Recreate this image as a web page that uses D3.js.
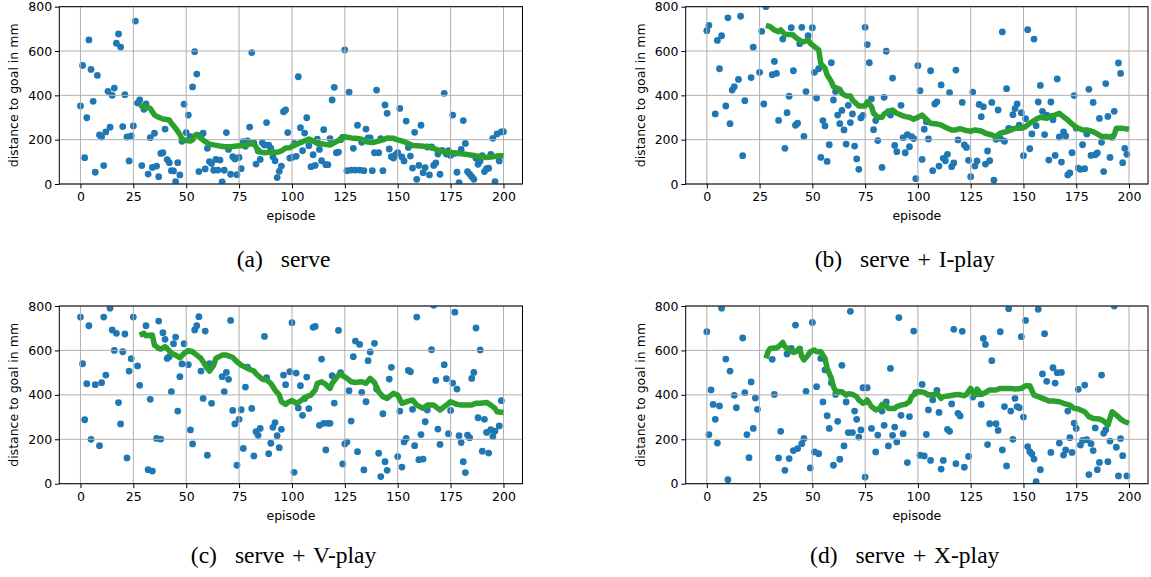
<!DOCTYPE html>
<html>
<head>
<meta charset="utf-8">
<script src="https://cdn.jsdelivr.net/npm/d3@7"></script>
<style>
  html, body { margin: 0; padding: 0; background: #fff; }
  svg { display: block; }
</style>
</head>
<body>
<svg id="chart" width="1151" height="577"></svg>
<script>
// Episode index shared by all four experiments
const episodes = d3.range(0, 201);
const xTicks = [0, 25, 50, 75, 100, 125, 150, 175, 200];
const yTicks = [0, 200, 400, 600, 800];

// Distance to goal (mm) per episode; null = outside the plotted range
const serveDist = [
  352,535,119,299,650,517,373,53,490,221,
  212,83,235,418,256,400,433,635,677,618,
  259,403,212,104,217,262,735,365,379,83,
  337,361,45,209,75,229,81,33,138,141,
  248,110,96,60,59,11,96,41,193,360,
  232,311,214,438,597,496,56,220,229,68,
  161,101,92,62,111,63,108,9,62,232,
  156,44,123,113,42,120,69,191,170,195,
  257,593,186,90,150,111,186,176,277,175,
  162,123,105,29,57,81,326,334,232,117,
  120,183,125,484,254,150,230,299,173,78,
  132,84,202,156,105,245,87,87,205,379,
  436,141,144,200,210,605,60,414,63,161,
  63,265,63,188,60,248,208,208,60,141,
  424,141,205,60,357,319,158,123,117,132,
  141,341,122,104,284,165,126,72,233,21,
  84,265,51,74,167,41,167,84,95,135,
  44,152,409,135,150,129,311,138,53,6,
  156,286,183,56,45,33,21,116,89,104,
  128,56,69,71,134,206,11,226,104,235,
  236
];
const iPlayDist = [
  692,716,null,null,316,648,520,669,null,352,
  750,272,424,439,null,472,757,128,376,null,
  null,480,617,null,null,504,689,361,800,null,
  null,493,553,499,287,null,654,161,322,396,
  705,511,265,274,633,707,215,417,669,null,
  705,504,388,520,120,286,262,102,177,547,
  379,417,311,272,332,244,180,355,277,316,
  171,113,66,298,310,707,629,547,384,245,
  286,196,null,75,391,599,326,311,478,174,
  146,null,355,209,141,223,168,214,205,24,
  534,421,111,247,281,203,511,60,361,371,
  81,447,116,105,134,412,78,95,514,199,
  null,368,176,165,107,33,415,81,104,359,
  304,349,90,149,105,368,17,202,334,206,
  686,193,430,251,248,313,340,361,266,322,
  128,295,696,159,226,654,263,370,445,328,
  223,311,108,370,290,129,474,212,99,235,
  217,41,50,141,399,251,72,66,177,69,
  226,427,129,368,132,140,296,188,56,453,
  305,120,211,328,null,546,499,96,161,134,
  null
];
const vPlayDist = [
  750,540,288,450,711,200,null,446,null,171,
  455,750,489,null,790,692,600,677,365,269,
  594,674,116,507,563,750,null,530,443,null,
  null,711,63,380,57,null,204,732,201,680,
  650,564,572,414,630,660,327,482,539,630,
  null,536,242,179,692,711,752,507,384,687,
  128,540,362,null,null,null,null,482,414,501,
  470,735,330,269,83,290,333,159,435,525,
  null,339,125,234,218,249,null,663,477,135,
  182,254,275,216,162,245,489,446,null,504,
  725,51,498,341,441,308,384,480,338,null,
  704,708,null,263,561,272,152,272,272,486,
  363,null,690,500,89,179,188,419,282,572,
  642,144,627,411,62,369,554,593,null,632,
  426,137,32,315,99,60,471,524,null,null,
  122,327,75,188,204,510,504,335,171,750,
  108,221,111,279,332,null,603,803,465,246,
  177,null,536,473,225,330,453,772,426,216,
  185,99,50,219,207,474,501,701,297,602,
  146,290,231,138,243,213,237,null,260,374,
  null
];
const xPlayDist = [
  684,221,422,357,290,183,350,790,null,561,
  18,507,null,398,342,null,null,656,410,221,
  117,458,249,386,335,null,null,null,null,null,
  null,560,402,null,116,236,null,60,584,113,
  609,149,714,158,606,180,204,416,null,71,
  726,143,437,135,564,368,512,306,249,455,
  83,402,281,110,533,170,368,230,776,230,
  327,290,210,242,432,30,432,null,249,null,
  143,219,null,327,263,368,170,519,218,255,
  188,748,308,225,null,95,302,null,687,410,
  null,128,447,125,222,332,105,377,null,420,
  321,66,105,null,245,236,359,695,90,317,
  305,686,74,null,123,null,390,null,null,405,
  357,654,627,176,270,554,null,270,240,684,
  152,347,80,788,327,200,384,347,342,662,
  300,735,167,144,134,111,9,785,63,494,
  675,461,null,141,522,453,500,183,501,129,
  152,327,207,141,273,249,425,174,195,444,
  198,41,180,149,251,63,96,489,227,243,
  99,192,null,800,164,35,203,126,null,35,
  null
];

// Running-average curves, [episode, distance in mm]
const serveTrend = [
  [28,355],[30,349],[33,341],[35,311],[37,301],[39,293],[42,289],[43,274],[45,251],[47,224],
  [48,202],[50,196],[52,194],[53,199],[54,218],[55,224],[57,206],[59,191],[61,180],[65,173],
  [68,168],[71,168],[74,171],[77,174],[80,180],[82,182],[83,168],[84,146],[87,141],[90,144],
  [93,143],[95,149],[97,162],[99,164],[102,178],[105,191],[108,203],[110,194],[112,183],[115,180],
  [118,176],[121,191],[124,206],[125,213],[128,208],[131,205],[133,202],[135,191],[138,187],[140,191],
  [143,199],[145,208],[148,206],[150,199],[153,191],[155,183],[157,174],[161,171],[164,168],[167,161],
  [170,150],[173,143],[176,141],[179,138],[182,134],[186,129],[189,123],[192,120],[195,123],[198,128],
  [200,127]
];
const iPlayTrend = [
  [28,716],[30,710],[32,695],[34,687],[35,695],[37,675],[39,675],[41,672],[42,662],[45,642],
  [46,642],[48,650],[49,635],[51,620],[53,605],[54,544],[56,522],[57,492],[59,462],[60,439],
  [63,427],[64,409],[66,397],[68,397],[69,379],[71,361],[72,352],[75,352],[76,371],[78,349],
  [79,319],[81,301],[83,301],[84,316],[86,326],[88,334],[90,319],[92,311],[94,304],[96,301],
  [98,292],[100,301],[102,311],[104,292],[106,274],[109,271],[111,266],[113,256],[116,244],[118,244],
  [120,250],[123,241],[125,238],[127,244],[130,239],[132,229],[135,221],[137,214],[139,229],[142,236],
  [144,244],[146,251],[149,251],[151,259],[153,274],[156,292],[158,301],[161,296],[163,307],[165,311],
  [167,319],[168,311],[171,289],[173,271],[175,256],[178,244],[180,244],[183,236],[185,226],[187,214],
  [190,214],[191,211],[193,221],[194,251],[197,251],[200,247]
];
const vPlayTrend = [
  [28,669],[30,677],[31,666],[34,669],[35,624],[37,609],[38,606],[40,617],[41,609],[43,587],
  [45,579],[47,567],[49,587],[51,599],[53,594],[55,579],[57,564],[58,549],[60,519],[61,507],
  [63,534],[64,564],[67,579],[69,579],[72,569],[74,549],[76,534],[79,519],[82,507],[83,495],
  [86,470],[88,467],[90,452],[92,422],[94,399],[95,369],[97,357],[98,366],[100,375],[102,362],
  [104,372],[107,392],[109,399],[111,422],[112,452],[114,459],[116,447],[118,429],[119,452],[122,489],
  [123,492],[126,474],[128,459],[130,456],[133,459],[135,452],[137,474],[139,456],[141,414],[143,392],
  [145,384],[148,407],[150,399],[152,362],[155,372],[157,377],[159,354],[162,339],[164,354],[167,354],
  [169,339],[170,332],[173,354],[175,369],[178,357],[180,354],[182,354],[185,354],[187,362],[189,362],
  [192,366],[194,354],[196,339],[197,324],[200,321]
];
const xPlayTrend = [
  [28,564],[29,594],[30,609],[33,612],[34,617],[36,636],[37,617],[39,602],[41,591],[42,594],
  [44,609],[45,572],[46,557],[48,579],[49,594],[51,602],[52,594],[54,594],[56,564],[57,519],
  [59,474],[60,437],[61,417],[63,414],[64,414],[66,399],[67,405],[69,402],[71,392],[72,377],
  [74,362],[75,366],[76,377],[78,347],[80,332],[82,339],[83,357],[85,351],[86,339],[89,339],
  [90,347],[92,354],[94,357],[96,369],[97,392],[100,414],[101,414],[103,411],[105,399],[108,402],
  [109,407],[111,384],[112,392],[115,396],[117,399],[119,402],[122,396],[123,402],[125,429],[127,399],
  [128,426],[130,402],[132,411],[134,422],[137,422],[139,429],[142,429],[144,429],[146,426],[149,429],
  [151,441],[153,441],[155,399],[157,392],[160,381],[162,372],[164,372],[167,369],[169,362],[172,354],
  [174,339],[176,336],[179,324],[181,302],[183,294],[186,291],[188,282],[190,264],[191,294],[192,324],
  [194,309],[196,291],[198,279],[200,272]
];

const captionTags = ["(a)", "(b)", "(c)", "(d)"];
const captionTexts = ["serve", "serve + I-play", "serve + V-play", "serve + X-play"];

const svg = d3.select("#chart");
svg.append("rect").attr("width", 1151).attr("height", 577).attr("fill", "#fff");

const panels = [
  { id: "a", values: serveDist, trend: serveTrend, left: 59.3, right: 522.5, top: 6.7, bottom: 184, capX: 283.5, capY: 267.3 },
  { id: "b", values: iPlayDist, trend: iPlayTrend, left: 685.7, right: 1148, top: 6.7, bottom: 184, capX: 904.7, capY: 267.3 },
  { id: "c", values: vPlayDist, trend: vPlayTrend, left: 59.3, right: 522.5, top: 306, bottom: 483.7, capX: 283.5, capY: 563.3 },
  { id: "d", values: xPlayDist, trend: xPlayTrend, left: 685.7, right: 1148, top: 306, bottom: 483.7, capX: 904.7, capY: 563.3 }
];

const tickFont = "'DejaVu Sans', sans-serif";

panels.forEach((p, k) => {
  const x = d3.scaleLinear().domain([-10, 209]).range([p.left, p.right]);
  const y = d3.scaleLinear().domain([0, 800]).range([p.bottom, p.top]);
  const g = svg.append("g").attr("class", "panel-" + p.id);

  const clipId = "clip-" + p.id;
  svg.append("defs").append("clipPath").attr("id", clipId)
    .append("rect")
    .attr("x", p.left).attr("y", p.top)
    .attr("width", p.right - p.left).attr("height", p.bottom - p.top);

  const pts = p.values
    .map((v, i) => ({ ep: episodes[i], v }))
    .filter(d => d.v !== null);

  // scatter of individual episodes
  g.append("g").attr("clip-path", `url(#${clipId})`)
    .selectAll("circle").data(pts).join("circle")
    .attr("cx", d => x(d.ep))
    .attr("cy", d => y(d.v))
    .attr("r", 3.4)
    .attr("fill", "#1f77b4");

  // grid
  const grid = g.append("g").attr("stroke", "#b0b0b0").attr("stroke-width", 1);
  grid.selectAll("line.gx").data(xTicks).join("line").attr("class", "gx")
    .attr("x1", d => x(d)).attr("x2", d => x(d))
    .attr("y1", p.top).attr("y2", p.bottom);
  grid.selectAll("line.gy").data(yTicks).join("line").attr("class", "gy")
    .attr("x1", p.left).attr("x2", p.right)
    .attr("y1", d => y(d)).attr("y2", d => y(d));

  // running average
  g.append("path").datum(p.trend)
    .attr("clip-path", `url(#${clipId})`)
    .attr("d", d3.line().x(d => x(d[0])).y(d => y(d[1])))
    .attr("fill", "none")
    .attr("stroke", "#2ca02c")
    .attr("stroke-width", 5.5)
    .attr("stroke-linejoin", "round")
    .attr("stroke-linecap", "butt");

  // axes
  const xAxis = g.append("g")
    .attr("transform", `translate(0,${p.bottom})`)
    .call(d3.axisBottom(x).tickValues(xTicks).tickSize(4.4).tickPadding(4.2).tickSizeOuter(0));
  const yAxis = g.append("g")
    .attr("transform", `translate(${p.left},0)`)
    .call(d3.axisLeft(y).tickValues(yTicks).tickSize(4.4).tickPadding(2.8).tickSizeOuter(0));
  [xAxis, yAxis].forEach(a => {
    a.select(".domain").remove();
    a.selectAll(".tick line").attr("stroke", "#000").attr("stroke-width", 1);
    a.selectAll(".tick text")
      .attr("fill", "#000")
      .style("font-family", tickFont)
      .style("font-size", "12.5px");
  });

  // frame
  g.append("rect")
    .attr("x", p.left).attr("y", p.top)
    .attr("width", p.right - p.left).attr("height", p.bottom - p.top)
    .attr("fill", "none").attr("stroke", "#000").attr("stroke-width", 1);

  // axis titles
  g.append("text")
    .attr("x", (p.left + p.right) / 2)
    .attr("y", p.bottom + 36.3)
    .attr("text-anchor", "middle")
    .style("font-family", tickFont).style("font-size", "12.5px")
    .attr("fill", "#000")
    .text("episode");
  g.append("text")
    .attr("transform", `translate(${p.left - 45.5},${(p.top + p.bottom) / 2}) rotate(-90)`)
    .attr("text-anchor", "middle")
    .attr("dominant-baseline", "central")
    .style("font-family", tickFont).style("font-size", "12.5px")
    .attr("fill", "#000")
    .text("distance to goal in mm");

  // sub-figure caption
  const cap = svg.append("text")
    .attr("x", p.capX).attr("y", p.capY)
    .attr("text-anchor", "middle")
    .style("font-family", "'Liberation Serif', 'Times New Roman', serif")
    .style("font-size", "23.5px")
    .style("word-spacing", "2px")
    .attr("fill", "#000");
  cap.append("tspan").text(captionTags[k]);
  cap.append("tspan").attr("dx", 18).text(captionTexts[k]);
});
</script>
</body>
</html>
